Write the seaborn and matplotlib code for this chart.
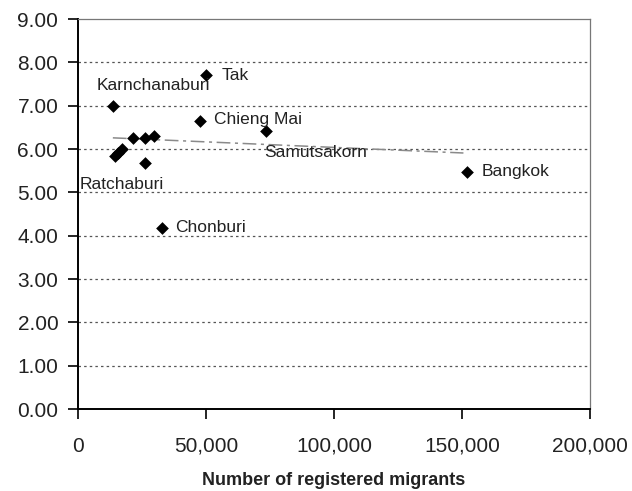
import matplotlib
matplotlib.use("Agg")
import matplotlib.pyplot as plt
import matplotlib.ticker as mticker
import numpy as np
import pandas as pd
import seaborn as sns

# values
migrants = [50000, 13700, 47700, 73300, 21600, 26200, 29800,
            14500, 15600, 17200, 26400, 32700, 151800]
scores = [7.70, 7.00, 6.66, 6.41, 6.26, 6.26, 6.31,
          5.84, 5.90, 6.01, 5.68, 4.18, 5.47]
names = ["Tak", "Karnchanaburi", "Chieng Mai", "Samutsakorn", "", "", "",
         "Ratchaburi", "", "", "", "Chonburi", "Bangkok"]

# trend line end points as drawn in the reference
trend_x = [13700, 150500]
trend_y = [6.26, 5.91]

df = pd.DataFrame({"migrants": migrants, "score": scores, "name": names})
trend = pd.DataFrame({"x": trend_x, "y": trend_y})

sns.set_style("white")
plt.rcParams["font.family"] = ["Liberation Sans", "DejaVu Sans"]

fig = plt.figure(figsize=(6.32, 4.91), dpi=100)
ax = fig.add_axes([0.123, 0.167, 0.811, 0.794])

for yv in range(1, 9):
    ax.axhline(yv, color="#555555", lw=0.9, ls=(0, (2, 2.5)), zorder=0)

sns.lineplot(data=trend, x="x", y="y", ax=ax, color="#8a8a8a", lw=1.1,
             linestyle=(0, (9, 3, 2, 3)), zorder=1)
sns.scatterplot(data=df, x="migrants", y="score", ax=ax, marker="D",
                color="black", s=42, edgecolor="black", linewidth=0, zorder=3)

# label offsets in pixels
offsets = {
    "Tak": (16, 0),
    "Karnchanaburi": (-16, 20),
    "Chieng Mai": (14, 1),
    "Samutsakorn": (-1, -21),
    "Ratchaburi": (-35, -28),
    "Chonburi": (14, 0),
    "Bangkok": (15, 1),
}
for _, row in df.iterrows():
    if row["name"]:
        ax.annotate(row["name"], (row["migrants"], row["score"]),
                    xytext=offsets[row["name"]], textcoords="offset pixels",
                    ha="left", va="center", fontsize=12.5, color="#222222")

ax.set_xlim(0, 200000)
ax.set_ylim(0, 9)
ax.xaxis.set_major_locator(mticker.MultipleLocator(50000))
ax.yaxis.set_major_locator(mticker.MultipleLocator(1))
ax.xaxis.set_major_formatter(mticker.FuncFormatter(lambda v, p: f"{v:,.0f}"))
ax.yaxis.set_major_formatter(mticker.FuncFormatter(lambda v, p: f"{v:.2f}"))
ax.tick_params(axis="both", direction="out", length=7, width=1.2,
               color="black", labelsize=15, labelcolor="#222222",
               bottom=True, left=True)
ax.tick_params(axis="x", pad=13)
ax.tick_params(axis="y", pad=7)
ax.set_xlabel("Number of registered migrants", fontsize=13, fontweight="bold",
              labelpad=12, color="#222222")
ax.set_ylabel("")

for side in ["left", "bottom"]:
    ax.spines[side].set_color("black")
    ax.spines[side].set_linewidth(1.4)
for side in ["top", "right"]:
    ax.spines[side].set_color("#777777")
    ax.spines[side].set_linewidth(0.9)

fig.savefig("out.png", dpi=100)
